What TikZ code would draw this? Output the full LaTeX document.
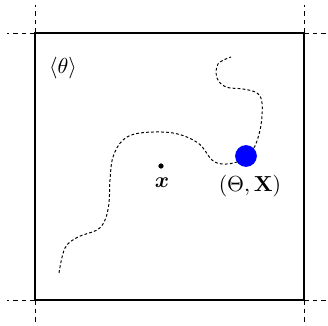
\documentclass[tikz,border=0pt]{standalone}
\usepackage{amsmath,bm}
\begin{document}
\begin{tikzpicture}[x=0.46pt,y=-0.46pt,
  ext/.style={line width=0.45pt,dash pattern=on 2.2pt off 1.8pt},
  walk/.style={line width=0.45pt,dash pattern=on 1.3pt off 1pt},
  lbl/.style={inner sep=0pt}]
\useasboundingbox (0,0) rectangle (328,326);
\coordinate (tl) at (35,33);
\coordinate (tr) at (304,33);
\coordinate (bl) at (35,300);
\coordinate (br) at (304,300);
\draw[line width=0.9pt] (tl) rectangle (br);
% dashed extensions
\coordinate (tlu) at (35,5); \coordinate (tll) at (7,33);
\coordinate (tru) at (304,5); \coordinate (trr) at (328,33);
\coordinate (bld) at (35,326); \coordinate (bll) at (7,300);
\coordinate (brd) at (304,326); \coordinate (brr) at (328,300);
\draw[ext] (tl) -- (tlu) (tl) -- (tll) (tr) -- (tru) (tr) -- (trr)
  (bl) -- (bld) (bl) -- (bll) (br) -- (brd) (br) -- (brr);
% random walk
\draw[walk] plot[smooth,tension=0.6] coordinates {
 (59,273) (65,248) (78,237) (97,230) (105,220) (109,203) (110,180)
 (113,157) (123,140) (140,133) (173,133) (198,143) (212,160) (223,164) (237,162) (247,155)};
\draw[walk] plot[smooth,tension=0.6] coordinates {
 (247,155) (255,146) (261,125) (262,103) (257,93) (243,89) (226,87) (217,78) (218,64) (231,57)};
\node[circle,fill=blue,inner sep=0pt,minimum size=10pt] (X) at (246,156) {};
\node[lbl] (Xl) at (250,186) {$(\Theta,\mathbf{X})$};
\node[circle,fill=black,inner sep=0pt,minimum size=2.4pt] (x) at (161,166) {};
\node[lbl] (xl) at (162,183) {$\bm{x}$};
\node[lbl] (th) at (63,68) {$\langle\theta\rangle$};
\end{tikzpicture}
\end{document}
